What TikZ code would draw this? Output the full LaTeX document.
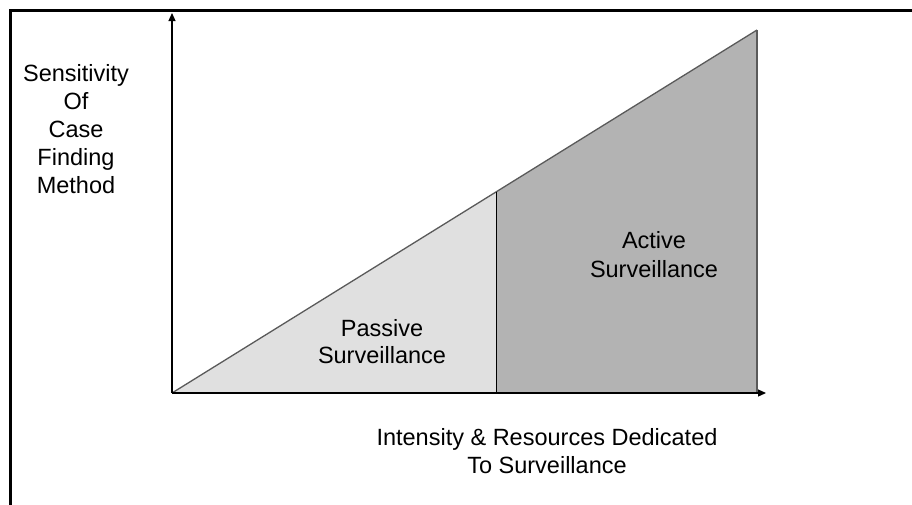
\documentclass[tikz,border=0pt]{standalone}
\usepackage{fontspec}
\setmainfont{Liberation Sans}
\usetikzlibrary{arrows.meta}
\definecolor{passivefill}{RGB}{224,224,224}
\definecolor{activefill}{RGB}{179,179,179}
\definecolor{edgegray}{RGB}{90,90,90}
\begin{document}
\begin{tikzpicture}[x=1pt,y=-1pt,
  lbl/.style={anchor=base,inner sep=0pt,font=\fontsize{23.5}{28}\selectfont},
  axis/.style={draw=black,line width=1.2pt,-{Triangle[length=8pt,width=7pt]}}]
\useasboundingbox (0,0) rectangle (912,504);
\fill[white] (0,0) rectangle (912,504);
\begin{scope}
\clip (0,0) rectangle (912,504);
\draw[line width=3pt] (10,10) rectangle (930,530);
\end{scope}
% key points
\coordinate (O) at (172,393);
\coordinate (Ytop) at (172,13);
\coordinate (Xend) at (766,393);
\coordinate (Dtop) at (496,192);
\coordinate (Dbot) at (496,393);
\coordinate (Ttop) at (757,30);
\coordinate (Tbot) at (757,393);
% regions
\fill[passivefill] (O) -- (Dtop) -- (Dbot) -- cycle;
\fill[activefill] (Dbot) -- (Dtop) -- (Ttop) -- (Tbot) -- cycle;
\draw[edgegray,line width=1.3pt] (O) -- (Ttop);
\draw[edgegray,line width=2pt] (Ttop) -- (Tbot);
\draw[black,line width=1pt] (Dtop) -- (Dbot);
% axes
\draw[axis] (O) -- (Ytop);
\draw[axis] (O) -- (Xend);
% labels
\node[lbl] (y1) at (76,81) {Sensitivity};
\node[lbl] (y2) at (76,109) {Of};
\node[lbl] (y3) at (76,137) {Case};
\node[lbl] (y4) at (76,165) {Finding};
\node[lbl] (y5) at (76,193) {Method};
\node[lbl] (p1) at (382,336) {Passive};
\node[lbl] (p2) at (382,363) {Surveillance};
\node[lbl] (a1) at (654,248) {Active};
\node[lbl] (a2) at (654,277) {Surveillance};
\node[lbl] (x1) at (547,445) {Intensity \& Resources Dedicated};
\node[lbl] (x2) at (547,473) {To Surveillance};
\end{tikzpicture}
\end{document}
